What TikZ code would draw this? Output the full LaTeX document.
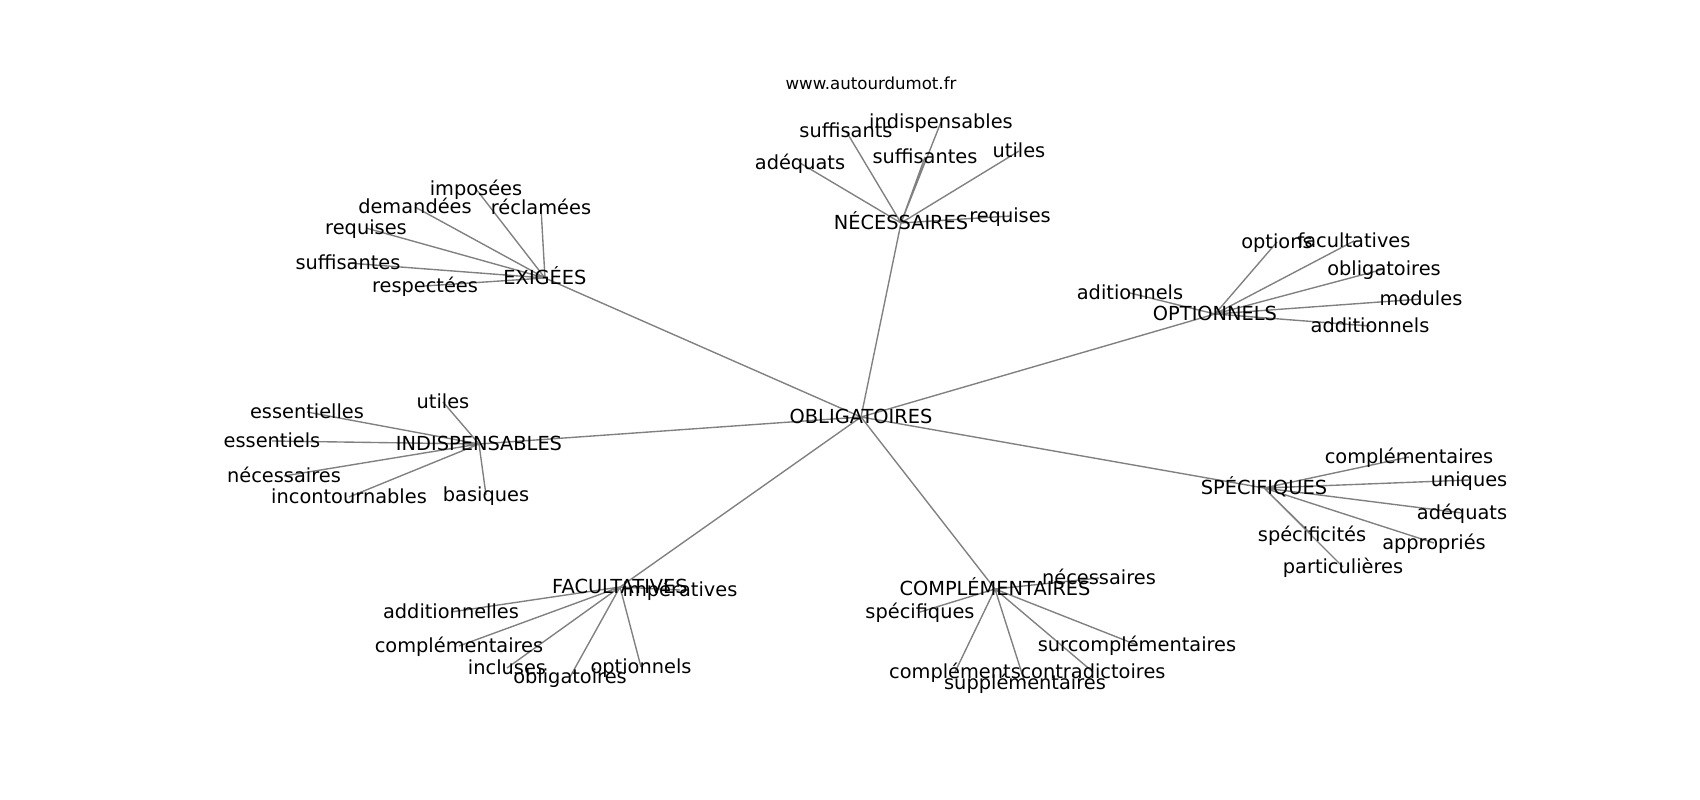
\documentclass[tikz,border=0pt]{standalone}
\usepackage{fontspec}
\setmainfont{DejaVu Sans}
\usetikzlibrary{backgrounds}

\begin{document}
\begin{tikzpicture}[x=0.254mm, y=-0.254mm,
    word/.style={inner sep=0pt, text height=1.1em, text depth=0.13em, font=\fontsize{14}{16}\selectfont},
    link/.style={draw=black!50, line width=1pt}]
    \useasboundingbox (0,0) rectangle (1700,800);

    \node[font=\fontsize{12}{14}\selectfont] (site) at (871,83) {www.autourdumot.fr};

    % Main words
    \node[word] (obligatoires) at (861,417) {OBLIGATOIRES};
    \node[word] (necessaires) at (901,223) {NÉCESSAIRES};
    \node[word] (exigees) at (545,278) {EXIGÉES};
    \node[word] (optionnels) at (1215,314) {OPTIONNELS};
    \node[word] (indispensables) at (479,444) {INDISPENSABLES};
    \node[word] (specifiques) at (1264,488) {SPÉCIFIQUES};
    \node[word] (facultatives) at (620,587) {FACULTATIVES};
    \node[word] (complementaires) at (995,589) {COMPLÉMENTAIRES};

    % Around NÉCESSAIRES
    \node[word] (nec-adequats) at (800,163) {adéquats};
    \node[word] (nec-suffisants) at (846,131) {suffisants};
    \node[word] (nec-indispensables) at (941,122) {indispensables};
    \node[word] (nec-suffisantes) at (925,157) {suffisantes};
    \node[word] (nec-utiles) at (1019,151) {utiles};
    \node[word] (nec-requises) at (1010,216) {requises};

    % Around EXIGÉES
    \node[word] (exi-imposees) at (476,189) {imposées};
    \node[word] (exi-demandees) at (415,207) {demandées};
    \node[word] (exi-reclamees) at (541,208) {réclamées};
    \node[word] (exi-requises) at (366,228) {requises};
    \node[word] (exi-suffisantes) at (348,263) {suffisantes};
    \node[word] (exi-respectees) at (425,286) {respectées};

    % Around OPTIONNELS
    \node[word] (opt-options) at (1277,242) {options};
    \node[word] (opt-facultatives) at (1354,241) {facultatives};
    \node[word] (opt-obligatoires) at (1384,269) {obligatoires};
    \node[word] (opt-modules) at (1421,299) {modules};
    \node[word] (opt-additionnels) at (1370,326) {additionnels};
    \node[word] (opt-aditionnels) at (1130,293) {aditionnels};

    % Around INDISPENSABLES
    \node[word] (ind-utiles) at (443,402) {utiles};
    \node[word] (ind-essentielles) at (307,412) {essentielles};
    \node[word] (ind-essentiels) at (272,441) {essentiels};
    \node[word] (ind-necessaires) at (284,476) {nécessaires};
    \node[word] (ind-incontournables) at (349,497) {incontournables};
    \node[word] (ind-basiques) at (486,495) {basiques};

    % Around SPÉCIFIQUES
    \node[word] (spe-complementaires) at (1409,457) {complémentaires};
    \node[word] (spe-uniques) at (1469,480) {uniques};
    \node[word] (spe-adequats) at (1462,513) {adéquats};
    \node[word] (spe-appropries) at (1434,543) {appropriés};
    \node[word] (spe-specificites) at (1312,535) {spécificités};
    \node[word] (spe-particulieres) at (1343,567) {particulières};

    % Around FACULTATIVES
    \node[word] (fac-imperatives) at (680,590) {impératives};
    \node[word] (fac-additionnelles) at (451,612) {additionnelles};
    \node[word] (fac-complementaires) at (459,646) {complémentaires};
    \node[word] (fac-incluses) at (507,668) {incluses};
    \node[word] (fac-obligatoires) at (570,677) {obligatoires};
    \node[word] (fac-optionnels) at (641,667) {optionnels};

    % Around COMPLÉMENTAIRES
    \node[word] (com-necessaires) at (1099,578) {nécessaires};
    \node[word] (com-specifiques) at (920,612) {spécifiques};
    \node[word] (com-surcomplementaires) at (1137,645) {surcomplémentaires};
    \node[word] (com-complements) at (955,672) {compléments};
    \node[word] (com-contradictoires) at (1093,672) {contradictoires};
    \node[word] (com-supplementaires) at (1025,683) {supplémentaires};

    \begin{scope}[on background layer]
        \draw[link] (obligatoires.center) -- (necessaires.center)
            (obligatoires.center) -- (exigees.center)
            (obligatoires.center) -- (optionnels.center)
            (obligatoires.center) -- (indispensables.center)
            (obligatoires.center) -- (specifiques.center)
            (obligatoires.center) -- (facultatives.center)
            (obligatoires.center) -- (complementaires.center);
        \draw[link] (necessaires.center) -- (nec-adequats.center)
            (necessaires.center) -- (nec-suffisants.center)
            (necessaires.center) -- (nec-indispensables.center)
            (necessaires.center) -- (nec-suffisantes.center)
            (necessaires.center) -- (nec-utiles.center)
            (necessaires.center) -- (nec-requises.center);
        \draw[link] (exigees.center) -- (exi-imposees.center)
            (exigees.center) -- (exi-demandees.center)
            (exigees.center) -- (exi-reclamees.center)
            (exigees.center) -- (exi-requises.center)
            (exigees.center) -- (exi-suffisantes.center)
            (exigees.center) -- (exi-respectees.center);
        \draw[link] (optionnels.center) -- (opt-options.center)
            (optionnels.center) -- (opt-facultatives.center)
            (optionnels.center) -- (opt-obligatoires.center)
            (optionnels.center) -- (opt-modules.center)
            (optionnels.center) -- (opt-additionnels.center)
            (optionnels.center) -- (opt-aditionnels.center);
        \draw[link] (indispensables.center) -- (ind-utiles.center)
            (indispensables.center) -- (ind-essentielles.center)
            (indispensables.center) -- (ind-essentiels.center)
            (indispensables.center) -- (ind-necessaires.center)
            (indispensables.center) -- (ind-incontournables.center)
            (indispensables.center) -- (ind-basiques.center);
        \draw[link] (specifiques.center) -- (spe-complementaires.center)
            (specifiques.center) -- (spe-uniques.center)
            (specifiques.center) -- (spe-adequats.center)
            (specifiques.center) -- (spe-appropries.center)
            (specifiques.center) -- (spe-specificites.center)
            (specifiques.center) -- (spe-particulieres.center);
        \draw[link] (facultatives.center) -- (fac-imperatives.center)
            (facultatives.center) -- (fac-additionnelles.center)
            (facultatives.center) -- (fac-complementaires.center)
            (facultatives.center) -- (fac-incluses.center)
            (facultatives.center) -- (fac-obligatoires.center)
            (facultatives.center) -- (fac-optionnels.center);
        \draw[link] (complementaires.center) -- (com-necessaires.center)
            (complementaires.center) -- (com-specifiques.center)
            (complementaires.center) -- (com-surcomplementaires.center)
            (complementaires.center) -- (com-complements.center)
            (complementaires.center) -- (com-contradictoires.center)
            (complementaires.center) -- (com-supplementaires.center);
    \end{scope}
\end{tikzpicture}
\end{document}
